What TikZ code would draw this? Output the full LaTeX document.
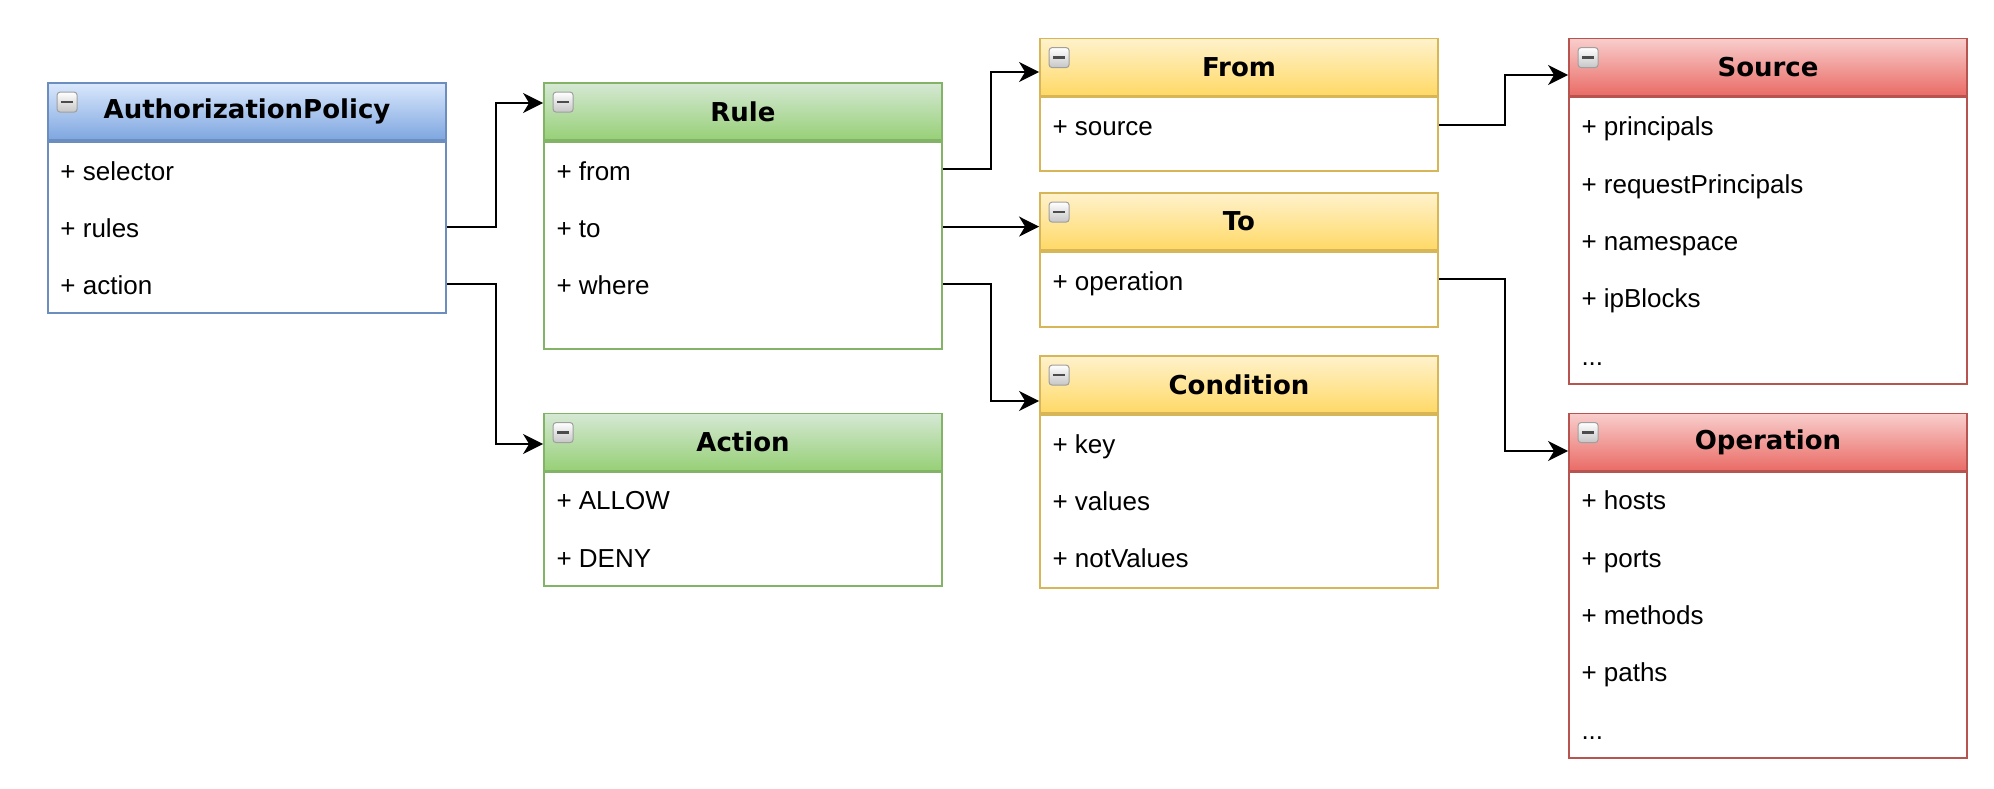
\documentclass[tikz,border=0pt]{standalone}
\usepackage{fontspec}
\setmainfont{Liberation Sans}
\newfontfamily\headfont{DejaVu Sans}
\usetikzlibrary{positioning,arrows.meta}

\definecolor{blueTop}{HTML}{DAE8FC}\definecolor{blueBot}{HTML}{7EA6E0}\definecolor{blueLine}{HTML}{6C8EBF}
\definecolor{greenTop}{HTML}{D5E8D4}\definecolor{greenBot}{HTML}{97D077}\definecolor{greenLine}{HTML}{82B366}
\definecolor{yellowTop}{HTML}{FFF2CC}\definecolor{yellowBot}{HTML}{FFD966}\definecolor{yellowLine}{HTML}{D6B656}
\definecolor{redTop}{HTML}{F8CECC}\definecolor{redBot}{HTML}{EA6B66}\definecolor{redLine}{HTML}{B85450}

\begin{document}
\begin{tikzpicture}[x=0.5pt,y=-0.5pt,
    every node/.style={font=\fontsize{13}{15}\selectfont},
    head/.style={draw=#1Line,top color=#1Top,bottom color=#1Bot,line width=0.9pt,
      minimum width=199pt,minimum height=28.5pt,inner sep=0pt,
      font=\headfont\bfseries\fontsize{13}{15}\selectfont},
    body/.style={draw=#1Line,fill=white,line width=0.9pt,minimum width=199pt,inner sep=0pt},
    row/.style={anchor=north west,inner sep=0pt,text height=11pt,text depth=0pt},
    icon/.style={draw=gray!75,rounded corners=1.5pt,top color=white,bottom color=gray!45,line width=0.5pt},
    conn/.style={line width=1.1pt,-{Stealth[length=10pt,width=10pt,inset=3pt]}}]
  \useasboundingbox (0,0) rectangle (1994,788);

  % AuthorizationPolicy
  \node[head=blue] (apH) at (247,111.5) {AuthorizationPolicy};
  \node[body=blue,minimum height=85.5pt,below=0pt of apH] (apB) {};
  \node[row,below right=8.5pt and 6.5pt of apH.south west] (apSel) {+ selector};
  \node[row,below right=17.25pt and 0pt of apSel.south west] (apRules) {+ rules};
  \node[row,below right=17.25pt and 0pt of apRules.south west] (apAct) {+ action};

  % Rule / Action
  \node[head=green] (ruleH) at (743,111.5) {Rule};
  \node[body=green,minimum height=103.5pt,below=0pt of ruleH] (ruleB) {};
  \node[row,below right=8.5pt and 6.5pt of ruleH.south west] (ruleFrom) {+ from};
  \node[row,below right=17.25pt and 0pt of ruleFrom.south west] (ruleTo) {+ to};
  \node[row,below right=17.25pt and 0pt of ruleTo.south west] (ruleWhere) {+ where};

  \node[head=green] (actH) at (743,442) {Action};
  \node[body=green,minimum height=57pt,below=0pt of actH] (actB) {};
  \node[row,below right=8pt and 6.5pt of actH.south west] (actAllow) {+ ALLOW};
  \node[row,below right=17.25pt and 0pt of actAllow.south west] (actDeny) {+ DENY};

  % From / To / Condition
  \node[head=yellow] (fromH) at (1239,67) {From};
  \node[body=yellow,minimum height=37pt,below=0pt of fromH] (fromB) {};
  \node[row,below right=8.5pt and 6.5pt of fromH.south west] (fromSrc) {+ source};

  \node[head=yellow] (toH) at (1239,221.5) {To};
  \node[body=yellow,minimum height=37.5pt,below=0pt of toH] (toB) {};
  \node[row,below right=8.5pt and 6.5pt of toH.south west] (toOp) {+ operation};

  \node[head=yellow] (condH) at (1239,384.5) {Condition};
  \node[body=yellow,minimum height=86.5pt,below=0pt of condH] (condB) {};
  \node[row,below right=8.5pt and 6.5pt of condH.south west] (condKey) {+ key};
  \node[row,below right=17.25pt and 0pt of condKey.south west] (condVal) {+ values};
  \node[row,below right=17.25pt and 0pt of condVal.south west] (condNot) {+ notValues};

  % Source / Operation
  \node[head=red] (srcH) at (1768,67) {Source};
  \node[body=red,minimum height=143.5pt,below=0pt of srcH] (srcB) {};
  \node[row,below right=8.5pt and 6.5pt of srcH.south west] (srcPr) {+ principals};
  \node[row,below right=17.25pt and 0pt of srcPr.south west] (srcReq) {+ requestPrincipals};
  \node[row,below right=17.25pt and 0pt of srcReq.south west] (srcNs) {+ namespace};
  \node[row,below right=17.25pt and 0pt of srcNs.south west] (srcIp) {+ ipBlocks};
  \node[row,below right=17.25pt and 0pt of srcIp.south west] (srcMore) {...};

  \node[head=red] (opH) at (1768,442) {Operation};
  \node[body=red,minimum height=143pt,below=0pt of opH] (opB) {};
  \node[row,below right=8pt and 6.5pt of opH.south west] (opHost) {+ hosts};
  \node[row,below right=17.25pt and 0pt of opHost.south west] (opPort) {+ ports};
  \node[row,below right=17.25pt and 0pt of opPort.south west] (opMeth) {+ methods};
  \node[row,below right=17.25pt and 0pt of opMeth.south west] (opPath) {+ paths};
  \node[row,below right=17.25pt and 0pt of opPath.south west] (opMore) {...};

  % collapse icons
  \foreach \h in {apH,ruleH,actH,fromH,toH,condH,srcH,opH}{
    \draw[icon] ([shift={(5pt,-5pt)}]\h.north west) rectangle ++(10pt,-10pt);
    \draw[line width=1.3pt,black!70] ([shift={(7pt,-10pt)}]\h.north west) -- ++(6pt,0);
  }

  % connectors
  \draw[conn] (apRules -| apB.east) -- ++(24.5pt,0) |- ([yshift=4.25pt]ruleH.west);
  \draw[conn] (apAct -| apB.east) -- ++(24.5pt,0) |- ([yshift=-1pt]actH.west);
  \draw[conn] (ruleFrom -| ruleB.east) -- ++(24pt,0) |- ([yshift=-2.5pt]fromH.west);
  \draw[conn] (ruleTo -| ruleB.east) -- (ruleTo -| toH.west);
  \draw[conn] (ruleWhere -| ruleB.east) -- ++(24pt,0) |- ([yshift=-8.25pt]condH.west);
  \draw[conn] (fromSrc -| fromB.east) -- ++(33pt,0) |- ([yshift=-4pt]srcH.west);
  \draw[conn] (toOp -| toB.east) -- ++(33pt,0) |- ([yshift=-4.5pt]opH.west);
\end{tikzpicture}
\end{document}
